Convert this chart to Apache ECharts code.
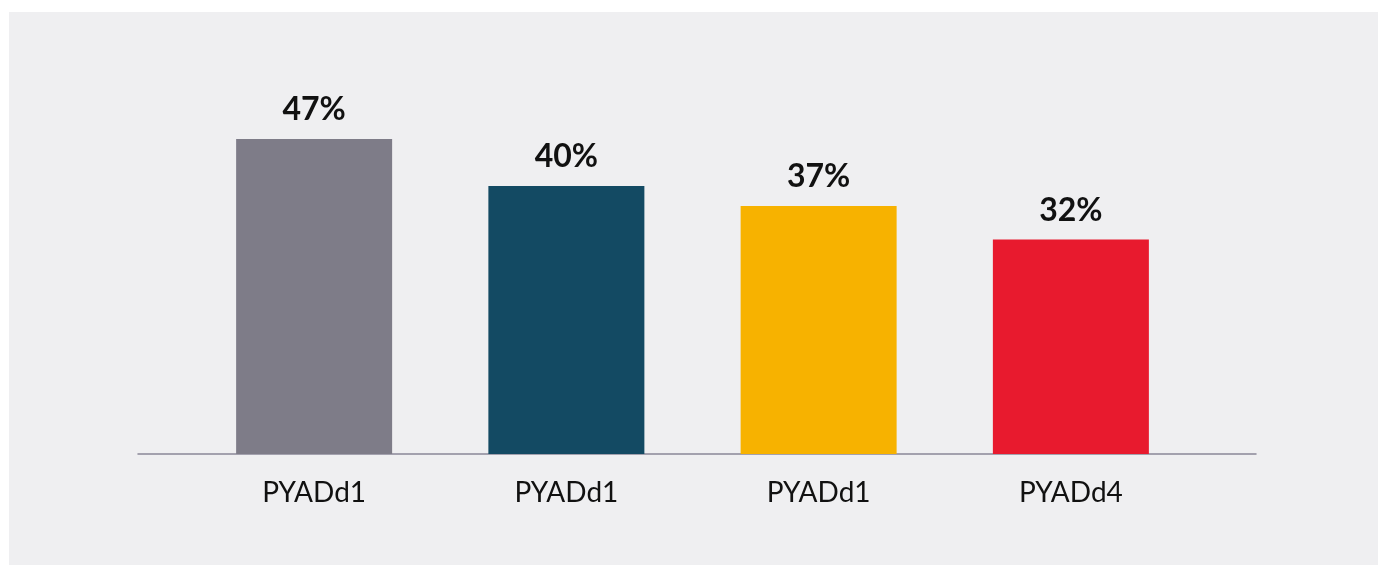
<!DOCTYPE html>
<html>
<head>
<meta charset="utf-8">
<script src="https://cdn.jsdelivr.net/npm/echarts@6/dist/echarts.min.js"></script>
<style>
  html, body { margin: 0; padding: 0; background: #ffffff; }
  #chart {
    position: absolute;
    left: 9px;
    top: 12px;
    width: 1369px;
    height: 553px;
    background: #efeff1;
  }
</style>
</head>
<body>
<div id="chart"></div>
<script>
// data
const categories = ['PYADd1', 'PYADd1', 'PYADd1', 'PYADd4'];
const values = [47, 40, 37, 32];
const barColors = ['#7e7c88', '#134a63', '#f7b200', '#e81a2e'];

const myChart = echarts.init(document.getElementById('chart'));

const options = {
  animation: false,
  grid: [
    // bars
    { left: 179, right: 181, top: 40, bottom: 111 },
    // only for the longer baseline
    { left: 129, right: 122, top: 40, bottom: 111 },
  ],
  xAxis: [
    {
      type: 'category',
      gridIndex: 0,
      data: categories,
      axisLine: { show: false },
      axisTick: { show: false },
      axisLabel: {
        color: '#111111',
        fontFamily: 'Lato',
        fontSize: 28,
        margin: 25,
      },
    },
    {
      type: 'category',
      gridIndex: 1,
      data: categories,
      axisLine: { show: true, lineStyle: { color: '#8a8898', width: 1.5 } },
      axisTick: { show: false },
      axisLabel: { show: false },
    },
  ],
  yAxis: [
    { type: 'value', gridIndex: 0, min: 0, max: 60, show: false },
    { type: 'value', gridIndex: 1, min: 0, max: 60, show: false },
  ],
  series: [
    {
      type: 'bar',
      xAxisIndex: 0,
      yAxisIndex: 0,
      barWidth: 156,
      data: values.map((v, i) => ({
        value: v,
        itemStyle: { color: barColors[i] },
      })),
      label: {
        show: true,
        position: 'top',
        distance: 13,
        color: '#111111',
        fontFamily: 'Lato',
        fontWeight: 'bold',
        fontSize: 32,
        formatter: '{c}%',
      },
    },
  ],
};
myChart.setOption(options);
</script>
</body>
</html>
